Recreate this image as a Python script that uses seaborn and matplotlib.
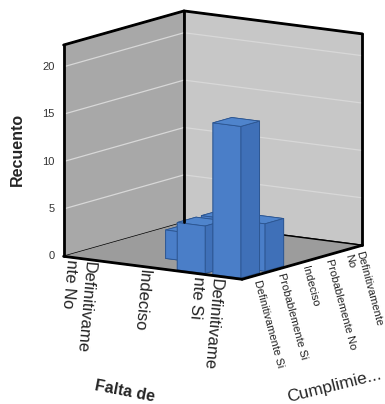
import warnings
import numpy as np
import pandas as pd
import matplotlib
matplotlib.use("Agg")
import matplotlib.pyplot as plt
from mpl_toolkits.mplot3d import proj3d
import seaborn as sns

warnings.filterwarnings("ignore")

# ---------------- data ----------------
falta_categories = ["Definitivamente No", "Probablemente No", "Indeciso",
                    "Probablemente Si", "Definitivamente Si"]
cumpl_categories = ["Definitivamente Si", "Probablemente Si", "Indeciso",
                    "Probablemente No", "Definitivamente No"]
falta_ticklabels = ["Definitivame\nnte No", "", "Indeciso", "", "Definitivame\nnte Si"]
cumpl_ticklabels = ["Definitivamente Si", "Probablemente Si", "Indeciso",
                    "Probablemente No", "Definitivamente\nNo"]
z_ticks = [0, 5, 10, 15, 20]

bar_falta = ["Definitivamente Si", "Probablemente Si", "Definitivamente Si",
             "Probablemente Si", "Indeciso"]
bar_cumpl = ["Definitivamente Si", "Definitivamente Si", "Probablemente Si",
             "Probablemente Si", "Probablemente Si"]
bar_counts = [16, 5, 5, 5, 3]

df = pd.DataFrame({"falta": bar_falta, "cumpl": bar_cumpl, "n": bar_counts})

# ---------------- style ----------------
sns.set_style("white")
plt.rcParams["font.family"] = ["Liberation Sans", "DejaVu Sans"]

fig = plt.figure(figsize=(3.85, 4.04), dpi=100)
ax = fig.add_axes([-0.008, 0.23, 1.1, 0.8], projection="3d", proj_type="ortho")
ax.view_init(elev=11, azim=-56)
ax.set_box_aspect((1, 1, 1), zoom=1.12)

w = 0.78
# face colours per bar: bottom, top, front(-y), back(+y), left(-x), right(+x)
face_cols = ["#4a7ec8", "#4f84cc", "#4a7ec8", "#4a7ec8", "#4a7ec8", "#3f70b8"]
xi = df["falta"].map({c: i for i, c in enumerate(falta_categories)}).to_numpy() - w / 2
yi = df["cumpl"].map({c: i for i, c in enumerate(cumpl_categories)}).to_numpy() - w / 2
ax.bar3d(xi, yi, np.zeros(len(df)), w, w, df["n"].to_numpy(),
         color=face_cols * len(df), edgecolor="#2c5590", linewidth=0.6, shade=False)

xlo, xhi = -0.5, len(falta_categories) - 0.5
ylo, yhi = -0.5, len(cumpl_categories) - 0.5
zlo, zhi = 0, 22.3
ax.set_xlim(xlo, xhi)
ax.set_ylim(ylo, yhi)
ax.set_zlim(zlo, zhi)

# panes
ax.xaxis.set_pane_color((0.66, 0.66, 0.66, 1.0))   # left wall
ax.yaxis.set_pane_color((0.78, 0.78, 0.78, 1.0))   # right wall
ax.zaxis.set_pane_color((0.61, 0.61, 0.61, 1.0))   # floor
for a in (ax.xaxis, ax.yaxis, ax.zaxis):
    a.pane.set_edgecolor((0, 0, 0, 0))
    a.line.set_linewidth(0)
    a._axinfo["tick"]["inward_factor"] = 0
    a._axinfo["tick"]["outward_factor"] = 0

ax.grid(False)

# horizontal gridlines on the two back walls (behind the bars)
for t in z_ticks[1:]:
    ax.plot([xlo, xlo], [ylo, yhi], [t, t], color="#d8d8d8", linewidth=0.9, zorder=1)
    ax.plot([xlo, xhi], [yhi, yhi], [t, t], color="#d8d8d8", linewidth=0.9, zorder=1)

# frame edges of the box
edges = [
    ([xlo, xhi], [ylo, ylo], [zlo, zlo]),
    ([xhi, xhi], [ylo, yhi], [zlo, zlo]),
    ([xlo, xlo], [ylo, ylo], [zlo, zhi]),
    ([xlo, xlo], [yhi, yhi], [zlo, zhi]),
    ([xhi, xhi], [yhi, yhi], [zlo, zhi]),
    ([xlo, xlo], [ylo, yhi], [zhi, zhi]),
    ([xlo, xhi], [yhi, yhi], [zhi, zhi]),
]
for ex, ey, ez in edges:
    ax.plot(ex, ey, ez, color="black", linewidth=2.0, solid_capstyle="round")

shown = [i for i, lab in enumerate(falta_ticklabels) if lab]
ax.set_xticks(shown)
xlabs = ax.set_xticklabels([falta_ticklabels[i] for i in shown], rotation=-95,
                           fontsize=12, ha="left", va="top",
                           rotation_mode="anchor", color="#222222")
xlabs[0].set_va("center")
ax.set_yticks(range(len(cumpl_categories)))
ax.set_yticklabels(cumpl_ticklabels, rotation=-75, fontsize=8,
                   ha="left", va="center", rotation_mode="anchor", color="#222222")
ax.set_zticks([])
ax.xaxis.set_tick_params(pad=-7)
ax.yaxis.set_tick_params(pad=-6)

fig.text(0.045, 0.63, "Recuento", rotation=90, fontsize=11.5, fontweight="bold",
         ha="center", va="center")
fig.text(0.325, 0.03, "Falta de", rotation=-11, fontsize=11.5, fontweight="bold",
         ha="center", va="center")
fig.text(0.868, 0.045, "Cumplimie...", rotation=14, fontsize=12.5,
         ha="center", va="center")

# value labels of the count axis, placed beside the projected left vertical edge
fig.canvas.draw()
M = ax.get_proj()
for t in z_ticks:
    px, py, _ = proj3d.proj_transform(xlo, ylo, t, M)
    dx, dy = ax.transData.transform((px, py))
    fig.text((dx - 9) / fig.bbox.width, dy / fig.bbox.height, str(t),
             fontsize=8, color="#333333", ha="right", va="center")

fig.savefig("out.png", dpi=100)
